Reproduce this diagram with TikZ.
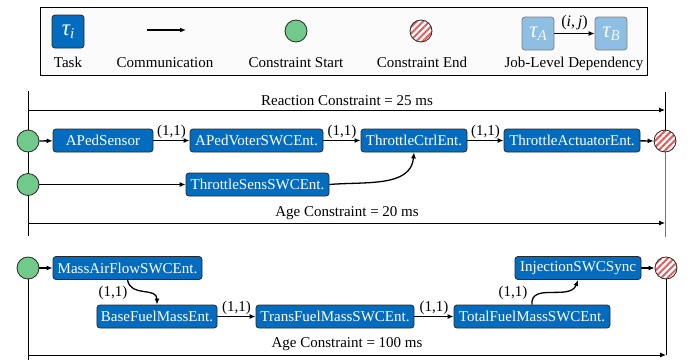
\documentclass[tikz,border=0pt]{standalone}
\usepackage{fontspec}
\setmainfont{Liberation Serif}
\newfontfamily\diagfont{Liberation Serif}
\usetikzlibrary{arrows.meta,patterns.meta}

\definecolor{taskblue}{RGB}{4,108,190}
\definecolor{joblight}{RGB}{142,190,226}
\definecolor{startgreen}{RGB}{114,202,138}
\definecolor{endred}{RGB}{232,90,90}
\definecolor{edgegray}{RGB}{40,40,40}

% task symbol with an italic subscript, set in the text font
\newcommand{\tasksym}[1]{{\itshape τ\raisebox{-0.32ex}{\fontsize{15}{15}\selectfont\itshape #1}}}

\tikzset{
  txt/.style={font=\diagfont\fontsize{15}{18}\selectfont, inner sep=0pt},
  task/.style={draw=edgegray, line width=0.8pt, fill=taskblue, rounded corners=3pt,
    text=white, font=\diagfont\fontsize{15}{18}\selectfont, minimum height=23pt,
    inner xsep=4pt, inner ysep=0pt},
  legtask/.style={task, minimum width=32pt, minimum height=33pt, inner xsep=0pt,
    font=\diagfont\fontsize{23}{24}\selectfont},
  jobtask/.style={draw=gray, line width=0.8pt, fill=joblight, rounded corners=3pt,
    text=white!90!joblight, minimum width=32pt, minimum height=33pt, inner sep=0pt,
    font=\diagfont\fontsize{23}{24}\selectfont},
  cstart/.style={circle, draw=edgegray, line width=0.8pt, fill=startgreen,
    minimum size=22pt, inner sep=0pt},
  cend/.style={circle, draw=edgegray, line width=0.8pt,
    pattern={Lines[angle=45,distance=4.6pt,line width=2pt]}, pattern color=endred,
    minimum size=22pt, inner sep=0pt},
  conn/.style={line width=1.3pt, -{Latex[length=6pt,width=5pt]}},
  span/.style={line width=0.9pt, -{Latex[length=6pt,width=5pt]}},
  bound/.style={line width=0.9pt},
  lbl/.style={txt}
}

\begin{document}
\begin{tikzpicture}[x=1pt,y=-1pt]
\useasboundingbox (0,0) rectangle (694,360);

% ---------------- legend ----------------
\node[draw=black, line width=1.1pt, fill=white!97!gray, minimum width=607pt,
      minimum height=68pt, inner sep=0pt, anchor=north west] (legbox) at (40,7) {};

\node[legtask] (legtau) at (68,31.5) {\tasksym{i}};
\node[txt, anchor=base] (legtasktxt) at (68,67) {Task};

\coordinate (commA) at (147,30);
\coordinate (commB) at (186,30);
\draw[conn] (commA) -- (commB);
\node[txt, anchor=base] (legcommtxt) at (165,67) {Communication};

\node[cstart] (legstart) at (296,31) {};
\node[txt, anchor=base] (legstarttxt) at (296,67) {Constraint Start};

\node[cend] (legend) at (421,31) {};
\node[txt, anchor=base] (legendtxt) at (422,67) {Constraint End};

\node[jobtask] (tauA) at (538,33.5) {\tasksym{A}};
\node[jobtask] (tauB) at (611,33.5) {\tasksym{B}};
\draw[conn] (tauA) -- node[lbl, above=3pt, font=\diagfont\fontsize{16}{18}\selectfont] (ijlbl) {(\textit{i},\,\textit{j})} (tauB);
\node[txt, anchor=base] (legjobtxt) at (574,67) {Job-Level Dependency};

% ---------------- first chain: reaction / age ----------------
\coordinate (ltop) at (28,91);
\coordinate (lbot) at (28,236);
\coordinate (rtop) at (665,92);
\coordinate (rbot) at (665,237);
\draw[bound] (ltop) -- (lbot);

\node[cstart] (s1) at (28,141) {};
\node[cstart] (s2) at (28,184.5) {};
\node[cend] (e1) at (665,141) {};
\draw[bound] (rtop) -- (e1.north);
\draw[bound, black!55] (e1.south) -- (rbot);

\node[task, minimum width=100pt] (aped) at (103,140.5) {APedSensor};
\node[task, minimum width=133pt] (voter) at (256.5,140.5) {APedVoterSWCEnt.};
\node[task, minimum width=106pt] (ctrl) at (414,140.5) {ThrottleCtrlEnt.};
\node[task, minimum width=136pt] (act) at (572,140.5) {ThrottleActuatorEnt.};
\node[task, minimum width=143pt] (sens) at (257.5,184.5) {ThrottleSensSWCEnt.};

\draw[conn] (s1) -- (aped);
\draw[conn] (aped) -- node[lbl, above=1pt] (l1) {(1,1)} (voter);
\draw[conn] (voter) -- node[lbl, above=1pt] (l2) {(1,1)} (ctrl);
\draw[conn] (ctrl) -- node[lbl, above=1pt] (l3) {(1,1)} (act);
\draw[conn] (act) -- (e1);
\draw[conn] (s2) -- (sens);
\draw[conn] (sens.east) to[out=5, in=-95] (ctrl.south);

\coordinate (reactL) at (28,110);
\coordinate (reactR) at (665,110);
\draw[span] (reactL) -- (reactR);
\node[txt] (reactlbl) at (347,101) {Reaction Constraint = 25 ms};

\coordinate (ageL) at (28,223);
\coordinate (ageR) at (665,223);
\draw[span] (ageL) -- (ageR);
\node[txt] (agelbl) at (347,213) {Age Constraint = 20 ms};

% ---------------- second chain: age ----------------
\node[cstart] (s3) at (28,268) {};
\node[cend] (e2) at (666,268) {};
\coordinate (l3bot) at (28,360);
\coordinate (r3bot) at (666,355);
\draw[bound] (s3.south) -- (l3bot);
\draw[bound] (e2.south) -- (r3bot);

\node[task, minimum width=149pt] (maf) at (127.5,268) {MassAirFlowSWCEnt.};
\node[task, minimum width=120pt] (base) at (157,316.5) {BaseFuelMassEnt.};
\node[task, minimum width=158pt] (trans) at (335,316.5) {TransFuelMassSWCEnt.};
\node[task, minimum width=156pt] (total) at (532,316.5) {TotalFuelMassSWCEnt.};
\node[task, minimum width=126pt] (inj) at (578,268) {InjectionSWCSync};

\draw[conn] (s3) -- (maf);
\draw[conn] (maf.south) to[out=-80, in=90, looseness=1.2] (base.north);
\node[lbl] (l4) at (113,293) {(1,1)};
\draw[conn] (base) -- node[lbl, above=1pt] (l5) {(1,1)} (trans);
\draw[conn] (trans) -- node[lbl, above=1pt] (l6) {(1,1)} (total);
\draw[conn] (total.north) to[out=95, in=-110, looseness=1.1] (inj.south);
\node[lbl] (l7) at (513,293) {(1,1)};
\draw[conn] (inj) -- (e2);

\coordinate (age2L) at (28,355);
\coordinate (age2R) at (666,355);
\draw[span] (age2L) -- (age2R);
\node[txt] (age2lbl) at (347,344) {Age Constraint = 100 ms};
\end{tikzpicture}
\end{document}
